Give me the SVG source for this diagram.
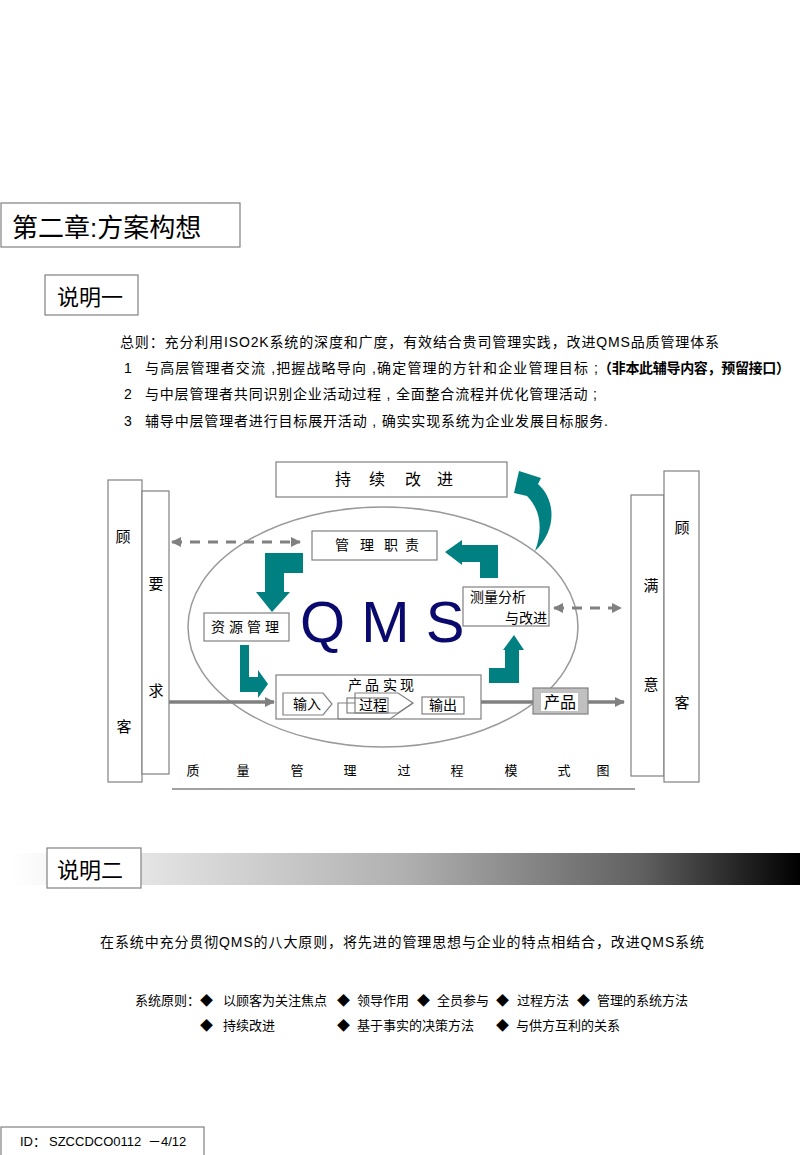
<svg xmlns="http://www.w3.org/2000/svg" width="800" height="1155" viewBox="0 0 800 1155">
<style>
text{font-family:"Liberation Sans","Noto Sans CJK SC",sans-serif;fill:#000}
.box{fill:#fff;stroke:#808080;stroke-width:1.2}
.t14{font-size:14px}
.t13{font-size:13px}
.t16{font-size:16px}
.lbl{font-size:15px;text-anchor:middle;dominant-baseline:central}
.teal{fill:#008080}
.gl{stroke:#808080;stroke-width:3.5;fill:none}
.dash{stroke:#808080;stroke-width:3;stroke-dasharray:10 8;fill:none}
.thin{stroke:#808080;stroke-width:1.2;fill:none}
</style>
<defs>
<linearGradient id="grad" x1="0" y1="0" x2="1" y2="0">
<stop offset="0" stop-color="#ffffff"/>
<stop offset="0.5" stop-color="#b0b0b0"/>
<stop offset="0.8" stop-color="#606060"/>
<stop offset="1" stop-color="#000000"/>
</linearGradient>
<marker id="ah" viewBox="0 0 10 10" refX="9" refY="5" markerWidth="10" markerHeight="10" markerUnits="userSpaceOnUse" orient="auto-start-reverse">
<path d="M0,0 L10,5 L0,10 Z" fill="#808080"/>
</marker>
</defs>

<g id="title">
<rect class="box" x="1" y="203" width="239" height="44"/>
<text x="12" y="237" style="font-size:26px">第二章:方案构想</text>
</g>

<g id="note1">
<rect class="box" x="45" y="275" width="93" height="40"/>
<text x="57" y="305" style="font-size:22px">说明一</text>
</g>

<g id="intro">
<text class="t14" x="120" y="347" textLength="599">总则：充分利用ISO2K系统的深度和广度，有效结合贵司管理实践，改进QMS品质管理体系</text>
<text class="t14" x="124" y="373">1</text>
<text class="t14" x="145" y="373" textLength="453">与高层管理者交流 ,把握战略导向 ,确定管理的方针和企业管理目标 ;</text>
<text class="t14" x="598" y="373" textLength="192" style="font-weight:bold">（非本此辅导内容，预留接口）</text>
<text class="t14" x="124" y="399">2</text>
<text class="t14" x="145" y="399" textLength="452">与中层管理者共同识别企业活动过程 , 全面整合流程并优化管理活动 ;</text>
<text class="t14" x="124" y="426">3</text>
<text class="t14" x="145" y="426" textLength="463">辅导中层管理者进行目标展开活动 , 确实实现系统为企业发展目标服务.</text>
</g>

<g id="ellipse">
<ellipse cx="383" cy="627" rx="195" ry="120" fill="none" stroke="#999" stroke-width="1.5"/>
</g>

<g id="connectors">
<line class="dash" x1="172" y1="542" x2="300" y2="542" marker-start="url(#ah)" marker-end="url(#ah)"/>
<line class="dash" x1="554" y1="608" x2="621" y2="608" marker-start="url(#ah)" marker-end="url(#ah)"/>
<line class="gl" x1="169" y1="702" x2="274" y2="702" marker-end="url(#ah)"/>
<line class="gl" x1="481" y1="702" x2="533" y2="702"/>
<line class="gl" x1="588" y1="702" x2="624" y2="702" marker-end="url(#ah)"/>
<line x1="172" y1="789" x2="635" y2="789" stroke="#808080" stroke-width="1.5"/>
<path class="teal" d="M265,553 L303,553 L303,573 L284,573 L284,592 L290,592 L272,612 L256,592 L265,592 Z"/>
<path class="teal" d="M445,552 L462,540 L462,545 L498,545 L498,578 L480,578 L480,562 L462,562 L462,565 Z"/>
<path class="teal" d="M240,645 L249,645 L249,677 L258,677 L258,670 L268,684 L258,698 L258,692 L240,692 Z"/>
<path class="teal" d="M489,668 L505,668 L505,650 L503,650 L514,635 L524,650 L519,650 L519,683 L489,683 Z"/>
<path class="teal" d="M519,471 L541,478 L538,484 C556,500 557,530 535,551 C543,530 541,510 527,496 L514,493 Z"/>
</g>

<g id="customer-left">
<rect class="box" x="108" y="480" width="34" height="302"/>
<text class="lbl t16" x="123" y="536">顾</text>
<text class="lbl t16" x="124" y="726">客</text>
</g>
<g id="require">
<rect class="box" x="142" y="491" width="27" height="283"/>
<text class="lbl t16" x="156" y="583">要</text>
<text class="lbl t16" x="156" y="690">求</text>
</g>

<g id="satisfy">
<rect class="box" x="631" y="495" width="33" height="281"/>
<text class="lbl t16" x="651" y="585">满</text>
<text class="lbl t16" x="651" y="684">意</text>
</g>
<g id="customer-right">
<rect class="box" x="664" y="471" width="35" height="311"/>
<text class="lbl t16" x="682" y="527">顾</text>
<text class="lbl t16" x="682" y="702">客</text>
</g>

<g id="improve">
<rect class="box" x="276" y="462" width="231" height="35"/>
<text class="t16" x="335 369 405 437" y="485">持续改进</text>
</g>

<g id="mgmt">
<rect class="box" x="312" y="531" width="125" height="29"/>
<text class="t14" x="335 360 384 405" y="550">管理职责</text>
</g>

<g id="resource">
<rect class="box" x="204" y="613" width="85" height="28"/>
<text class="t14" x="211 229 247 265" y="632">资源管理</text>
</g>

<g id="measure">
<rect class="box" x="463" y="587" width="86" height="39"/>
<text class="t14" x="470" y="602">测量分析</text>
<text class="t14" x="547" y="623" text-anchor="end">与改进</text>
</g>

<g id="qms">
<text x="300" y="642" style="font-size:58px;fill:#0a0a6e">Q M S</text>
</g>

<g id="realize">
<rect class="box" x="276" y="675" width="205" height="44"/>
<text class="t14" x="348 365 383 400" y="690">产品实现</text>
<path class="thin" d="M283,693 L323,693 L332,704 L323,715 L283,715 Z"/>
<text class="t14" x="307" y="709" text-anchor="middle">输入</text>
<path class="thin" d="M338,719 L338,703 L355,703 M338,719 L390,719 L413,703"/>
<path class="thin" d="M355,693 L398,693 L413,703 L398,713 L355,713 Z"/>
<rect class="thin" x="347" y="698" width="41" height="15"/>
<text class="t14" x="373" y="710" text-anchor="middle">过程</text>
<rect class="box" x="422" y="697" width="42" height="17"/>
<text class="t14" x="443" y="710" text-anchor="middle">输出</text>
</g>

<g id="product">
<rect x="533" y="688" width="55" height="26" fill="#c0c0c0" stroke="#808080" stroke-width="1.2"/>
<rect x="541" y="693" width="37" height="18" fill="#fff"/>
<text class="t16" x="560" y="708" text-anchor="middle">产品</text>
</g>

<g id="caption">
<text class="t13" x="193" y="775" text-anchor="middle">质</text>
<text class="t13" x="243" y="775" text-anchor="middle">量</text>
<text class="t13" x="297" y="775" text-anchor="middle">管</text>
<text class="t13" x="350" y="775" text-anchor="middle">理</text>
<text class="t13" x="404" y="775" text-anchor="middle">过</text>
<text class="t13" x="457" y="775" text-anchor="middle">程</text>
<text class="t13" x="511" y="775" text-anchor="middle">模</text>
<text class="t13" x="564" y="775" text-anchor="middle">式</text>
<text class="t13" x="603" y="775" text-anchor="middle">图</text>
</g>

<g id="note2">
<rect x="10" y="853" width="790" height="32" fill="url(#grad)"/>
<rect class="box" x="47" y="848" width="94" height="40"/>
<text x="57" y="878" style="font-size:22px">说明二</text>
</g>

<g id="principles">
<text class="t14" x="100" y="947" textLength="604">在系统中充分贯彻QMS的八大原则，将先进的管理思想与企业的特点相结合，改进QMS系统</text>
<text class="t13" x="135" y="1005">系统原则：</text>
<text class="t13" x="200" y="1005">◆</text>
<text class="t13" x="223" y="1005">以顾客为关注焦点</text>
<text class="t13" x="337" y="1005">◆</text>
<text class="t13" x="357" y="1005">领导作用</text>
<text class="t13" x="417" y="1005">◆</text>
<text class="t13" x="437" y="1005">全员参与</text>
<text class="t13" x="496" y="1005">◆</text>
<text class="t13" x="517" y="1005">过程方法</text>
<text class="t13" x="577" y="1005">◆</text>
<text class="t13" x="597" y="1005">管理的系统方法</text>
<text class="t13" x="200" y="1030">◆</text>
<text class="t13" x="223" y="1030">持续改进</text>
<text class="t13" x="337" y="1030">◆</text>
<text class="t13" x="357" y="1030">基于事实的决策方法</text>
<text class="t13" x="496" y="1030">◆</text>
<text class="t13" x="516" y="1030">与供方互利的关系</text>
</g>

<g id="footer">
<rect class="box" x="1" y="1127" width="203" height="32"/>
<text class="t13" x="20" y="1146">ID：</text>
<text class="t13" x="49" y="1146">SZCCDCO0112</text>
<text class="t13" x="148" y="1146">－4/12</text>
</g>
</svg>
